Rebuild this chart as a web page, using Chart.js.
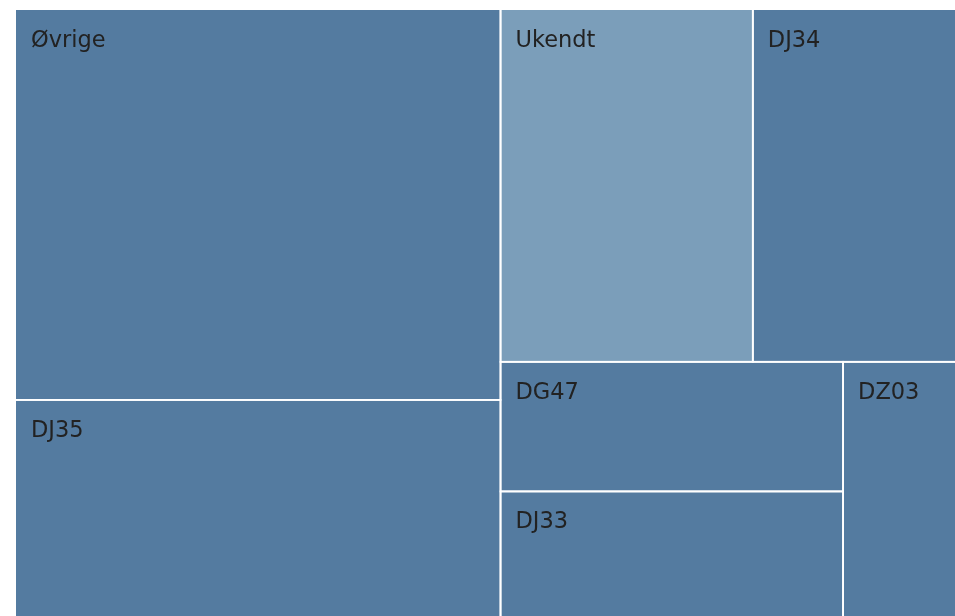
<!DOCTYPE html>
<html>
<head>
<meta charset="utf-8">
<title>Treemap</title>
<script src="https://cdn.jsdelivr.net/npm/chart.js@4.4.1/dist/chart.umd.min.js"></script>
<style>
  html, body { margin: 0; padding: 0; background: #fff; }
  #wrap { width: 955px; height: 616px; }
</style>
</head>
<body>
<div id="wrap"><canvas id="chart-tree"></canvas></div>
<script>
// ── DATA ──────────────────────────────
const labels = ['Øvrige', 'DJ35', 'Ukendt', 'DJ34', 'DG47', 'DJ33', 'DZ03'];
const values = [33.2, 18.4, 15.6, 12.5, 7.8, 7.5, 5.0];

// Layout space (data units of the x / y scales)
const SPACE_W = 939;
const SPACE_H = 606;

const FILL       = '#547ba0';
const FILL_LIGHT = '#7b9eba';
const TEXT_COLOR = '#222222';

// ── SQUARIFY (d3-style, golden ratio) ─
function squarify(items, x0, y0, x1, y1, ratio = (1 + Math.sqrt(5)) / 2) {
  const out = [];
  let value = items.reduce((s, d) => s + d.value, 0);
  let i0 = 0, i1 = 0;
  const n = items.length;

  while (i0 < n) {
    const dx = x1 - x0, dy = y1 - y0;
    let sum = items[i1++].value;
    let minV = sum, maxV = sum;
    const alpha = Math.max(dy / dx, dx / dy) / (value * ratio);
    let beta = sum * sum * alpha;
    let minRatio = Math.max(maxV / beta, beta / minV);

    for (; i1 < n; ++i1) {
      const v = items[i1].value;
      sum += v;
      if (v < minV) minV = v;
      if (v > maxV) maxV = v;
      beta = sum * sum * alpha;
      const r = Math.max(maxV / beta, beta / minV);
      if (r > minRatio) { sum -= v; break; }
      minRatio = r;
    }

    const row = items.slice(i0, i1);
    if (dx < dy) {
      // row across the top
      const yy = y0 + dy * sum / value;
      let x = x0;
      row.forEach(d => {
        const w = dx * d.value / sum;
        out.push({ ...d, x0: x, y0, x1: x + w, y1: yy });
        x += w;
      });
      y0 = yy;
    } else {
      // column down the left
      const xx = x0 + dx * sum / value;
      let y = y0;
      row.forEach(d => {
        const h = dy * d.value / sum;
        out.push({ ...d, x0, y0: y, x1: xx, y1: y + h });
        y += h;
      });
      x0 = xx;
    }
    value -= sum;
    i0 = i1;
  }
  return out;
}

const cells = squarify(
  labels.map((label, i) => ({ label, value: values[i] }))
        .sort((a, b) => b.value - a.value),
  0, 0, SPACE_W, SPACE_H
);

// ── CELL PAINTER ──────────────────────
const treemapPlugin = {
  id: 'treemapCells',
  afterDatasetsDraw(chart) {
    const { ctx, chartArea, scales: { x, y } } = chart;
    ctx.save();
    // keep the white separators off the outer border
    ctx.beginPath();
    ctx.rect(chartArea.left, chartArea.top, chartArea.right - chartArea.left, chartArea.bottom - chartArea.top);
    ctx.clip();

    cells.forEach(c => {
      const left   = x.getPixelForValue(c.x0);
      const right  = x.getPixelForValue(c.x1);
      const top    = y.getPixelForValue(c.y0);
      const bottom = y.getPixelForValue(c.y1);

      ctx.fillStyle = c.label === 'Ukendt' ? FILL_LIGHT : FILL;
      ctx.fillRect(left, top, right - left, bottom - top);
    });

    ctx.strokeStyle = '#ffffff';
    ctx.lineWidth = 1.8;
    cells.forEach(c => {
      const left   = x.getPixelForValue(c.x0);
      const right  = x.getPixelForValue(c.x1);
      const top    = y.getPixelForValue(c.y0);
      const bottom = y.getPixelForValue(c.y1);
      const pad = (v, lo, hi) => (Math.abs(v - lo) < 1 ? v - 2 : Math.abs(v - hi) < 1 ? v + 2 : v);
      const l = pad(left, chartArea.left, chartArea.right);
      const r = pad(right, chartArea.left, chartArea.right);
      const t = pad(top, chartArea.top, chartArea.bottom);
      const b = pad(bottom, chartArea.top, chartArea.bottom);
      ctx.strokeRect(l, t, r - l, b - t);
    });

    ctx.fillStyle = TEXT_COLOR;
    ctx.font = '22.5px "DejaVu Sans", sans-serif';
    ctx.textAlign = 'left';
    ctx.textBaseline = 'alphabetic';
    cells.forEach(c => {
      const left = x.getPixelForValue(c.x0);
      const top  = y.getPixelForValue(c.y0);
      ctx.fillText(c.label, left + 15, top + 37);
    });
    ctx.restore();
  },
};

new Chart(document.getElementById('chart-tree'), {
  type: 'scatter',
  data: {
    datasets: [{
      label: 'Andel',
      data: cells.map(c => ({ x: (c.x0 + c.x1) / 2, y: (c.y0 + c.y1) / 2 })),
      pointRadius: 0,
      pointHoverRadius: 0,
    }],
  },
  options: {
    responsive: true,
    maintainAspectRatio: false,
    animation: false,
    layout: { padding: { left: 16, top: 10, right: 0, bottom: 0 } },
    plugins: {
      legend: { display: false },
      tooltip: { enabled: false },
    },
    scales: {
      x: { type: 'linear', min: 0, max: SPACE_W, display: false },
      y: { type: 'linear', min: 0, max: SPACE_H, reverse: true, display: false },
    },
  },
  plugins: [treemapPlugin],
});
</script>
</body>
</html>
